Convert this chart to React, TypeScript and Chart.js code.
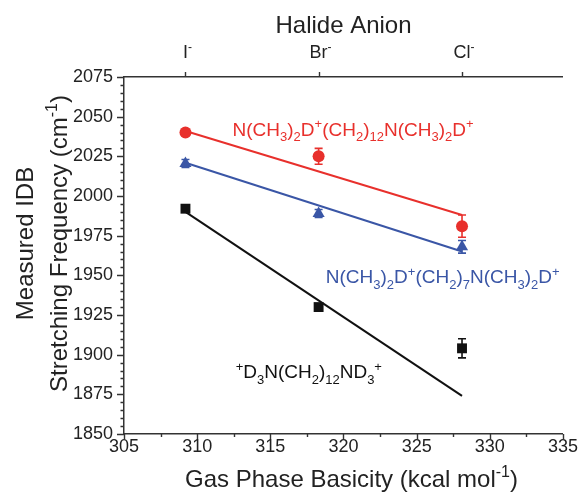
import React, { useEffect, useRef } from 'react';
import { Chart, registerables } from 'chart.js';

Chart.register(...registerables);

// ---- data ----
const basicity = [309.2, 318.3, 328.1];
const halideLabels = ['I^-', 'Br^-', 'Cl^-'];
const redC12 = [2040, 2025, 1981];
const redC12Err = [0, 5, 7];
const blueC7 = [2020.5, 1989, 1968];
const blueC7Err = [2.5, 2.5, 4];
const blackC12 = [1992, 1930, 1904];
const blackC12Err = [0, 0, 6];
const fitX = [309.2, 328.1];
const redFit = [2041, 1988];
const blueFit = [2021, 1965];
const blackFit = [1990, 1874];
const xTicksMin = 305;
const xTicksMax = 335;
const yTicksMin = 1850;
const yTicksMax = 2075;

const RED = '#e8302c';
const BLUE = '#3a56a6';
const BLACK = '#111111';
const AXIS = '#333333';
const FONT = '"Liberation Sans", Arial, Helvetica, sans-serif';

type Seg = { t: string; k: 'n' | 'sub' | 'sup' };

function parseRich(s: string): Seg[] {
  const out: Seg[] = [];
  let i = 0;
  let buf = '';
  const flush = () => {
    if (buf) out.push({ t: buf, k: 'n' });
    buf = '';
  };
  while (i < s.length) {
    const c = s[i];
    if (c === '_' || c === '^') {
      flush();
      const k = c === '_' ? 'sub' : 'sup';
      i++;
      let t = '';
      if (s[i] === '{') {
        i++;
        while (i < s.length && s[i] !== '}') t += s[i++];
        i++;
      } else {
        t = s[i++];
      }
      out.push({ t, k });
    } else {
      buf += c;
      i++;
    }
  }
  flush();
  return out;
}

function drawRich(
  ctx: CanvasRenderingContext2D,
  str: string,
  x: number,
  y: number,
  size: number,
  color: string,
  align: 'left' | 'center' = 'left'
) {
  const segs = parseRich(str);
  const small = Math.round(size * 0.66);
  const fontOf = (k: string) => `${k === 'n' ? size : small}px ${FONT}`;
  let total = 0;
  const widths = segs.map((sg) => {
    ctx.font = fontOf(sg.k);
    const w = ctx.measureText(sg.t).width;
    total += w;
    return w;
  });
  let cx = align === 'center' ? x - total / 2 : x;
  ctx.save();
  ctx.fillStyle = color;
  ctx.textAlign = 'left';
  ctx.textBaseline = 'alphabetic';
  segs.forEach((sg, idx) => {
    ctx.font = fontOf(sg.k);
    const dy = sg.k === 'sub' ? size * 0.28 : sg.k === 'sup' ? -size * 0.4 : 0;
    ctx.fillText(sg.t, cx, y + dy);
    cx += widths[idx];
  });
  ctx.restore();
}

const annotations = [
  { text: 'N(CH_3)_2D^+(CH_2)_{12}N(CH_3)_2D^+', x: 312.42, y: 2037.8, color: RED },
  { text: 'N(CH_3)_2D^+(CH_2)_7N(CH_3)_2D^+', x: 318.79, y: 1945, color: BLUE },
  { text: '^+D_3N(CH_2)_{12}ND_3^+', x: 312.63, y: 1885, color: BLACK },
];

const decorPlugin = {
  id: 'decor',
  afterDatasetsDraw(chart: any) {
    const ctx: CanvasRenderingContext2D = chart.ctx;
    const ys = chart.scales.y;
    ctx.save();
    ctx.lineWidth = 1.6;
    chart.data.datasets.forEach((ds: any, i: number) => {
      if (!ds.errors) return;
      const meta = chart.getDatasetMeta(i);
      ctx.strokeStyle = ds.borderColor;
      meta.data.forEach((el: any, j: number) => {
        const e = ds.errors[j];
        if (!e) return;
        const v = ds.data[j].y;
        const t = ys.getPixelForValue(v + e);
        const b = ys.getPixelForValue(v - e);
        ctx.beginPath();
        ctx.moveTo(el.x, t);
        ctx.lineTo(el.x, b);
        ctx.moveTo(el.x - 4, t);
        ctx.lineTo(el.x + 4, t);
        ctx.moveTo(el.x - 4, b);
        ctx.lineTo(el.x + 4, b);
        ctx.stroke();
      });
    });
    ctx.restore();
  },
  afterDraw(chart: any) {
    const ctx: CanvasRenderingContext2D = chart.ctx;
    const { left, right, top, bottom } = chart.chartArea;
    const xs = chart.scales.x;
    const ys = chart.scales.y;
    ctx.save();
    ctx.strokeStyle = AXIS;
    ctx.lineWidth = 1.4;
    ctx.beginPath();
    for (let v = yTicksMin; v <= yTicksMax + 0.01; v += 5) {
      const p = Math.round(ys.getPixelForValue(v)) + 0.5;
      const len = (v - yTicksMin) % 25 === 0 ? 7 : 3.5;
      ctx.moveTo(left - len, p);
      ctx.lineTo(left, p);
    }
    for (let v = xTicksMin; v <= xTicksMax + 0.01; v += 2.5) {
      const p = Math.round(xs.getPixelForValue(v)) + 0.5;
      const len = (v - xTicksMin) % 5 === 0 ? 5 : 3;
      ctx.moveTo(p, bottom);
      ctx.lineTo(p, bottom + len);
    }
    basicity.forEach((v) => {
      const p = Math.round(xs.getPixelForValue(v)) + 0.5;
      ctx.moveTo(p, top);
      ctx.lineTo(p, top - 5);
    });
    ctx.stroke();

    // top halide labels
    basicity.forEach((v, i) => {
      drawRich(ctx, halideLabels[i], xs.getPixelForValue(v) + 2, 58, 18, '#222', 'center');
    });
    // titles
    drawRich(ctx, 'Halide Anion', (left + right) / 2, 33, 24, '#222', 'center');
    drawRich(ctx, 'Gas Phase Basicity (kcal mol^{-1})', (left + right) / 2 + 8, 487, 24, '#222', 'center');
    const cy = (top + bottom) / 2 - 12;
    ctx.save();
    ctx.translate(33, cy);
    ctx.rotate(-Math.PI / 2);
    drawRich(ctx, 'Measured IDB', 0, 0, 24, '#222', 'center');
    ctx.restore();
    ctx.save();
    ctx.translate(67, cy);
    ctx.rotate(-Math.PI / 2);
    drawRich(ctx, 'Stretching Frequency (cm^{-1})', 0, 0, 24, '#222', 'center');
    ctx.restore();

    // series annotations
    annotations.forEach((a) => {
      drawRich(ctx, a.text, xs.getPixelForValue(a.x), ys.getPixelForValue(a.y), 19, a.color);
    });
    ctx.restore();
  },
};

const pts = (ys: number[]) => basicity.map((x, i) => ({ x, y: ys[i] }));
const fit = (ys: number[]) => fitX.map((x, i) => ({ x, y: ys[i] }));

export default function App() {
  const ref = useRef<HTMLCanvasElement | null>(null);
  useEffect(() => {
    document.body.style.margin = '0';
    const canvas = ref.current;
    if (!canvas) return;
    const tickFont = { family: FONT, size: 18 };
    const chart = new Chart(canvas, {
      type: 'scatter',
      data: {
        datasets: [
          { data: fit(redFit), showLine: true, borderColor: RED, borderWidth: 2, pointRadius: 0, order: 2 },
          { data: fit(blueFit), showLine: true, borderColor: BLUE, borderWidth: 2, pointRadius: 0, order: 2 },
          { data: fit(blackFit), showLine: true, borderColor: BLACK, borderWidth: 2, pointRadius: 0, order: 2 },
          {
            data: pts(redC12), errors: redC12Err, borderColor: RED, backgroundColor: RED,
            pointStyle: 'circle', pointRadius: 6, borderWidth: 0, order: 1,
          } as any,
          {
            data: pts(blueC7), errors: blueC7Err, borderColor: BLUE, backgroundColor: BLUE,
            pointStyle: 'triangle', pointRadius: 7, borderWidth: 0, order: 1,
          } as any,
          {
            data: pts(blackC12), errors: blackC12Err, borderColor: BLACK, backgroundColor: BLACK,
            pointStyle: 'rect', pointRadius: 7, borderWidth: 0, order: 1,
          } as any,
        ],
      },
      options: {
        responsive: false,
        animation: false,
        devicePixelRatio: 1,
        layout: { padding: { left: 0, right: 17, top: 0, bottom: 0 } },
        plugins: { legend: { display: false }, tooltip: { enabled: false } },
        scales: {
          x: {
            type: 'linear',
            position: 'bottom',
            min: xTicksMin,
            max: xTicksMax,
            grid: { display: false, drawTicks: false },
            border: { display: true, color: AXIS, width: 1.5 },
            ticks: { stepSize: 5, padding: 2, color: '#222', font: tickFont, callback: (v: any) => String(v) },
            afterFit: (s: any) => { s.height = 58; },
          },
          x2: {
            type: 'linear',
            position: 'top',
            min: xTicksMin,
            max: xTicksMax,
            grid: { display: false, drawTicks: false },
            border: { display: true, color: AXIS, width: 1.5 },
            ticks: { display: false },
            afterFit: (s: any) => { s.height = 77; },
          },
          y: {
            type: 'linear',
            min: yTicksMin,
            max: yTicksMax,
            grid: { display: false, drawTicks: false },
            border: { display: true, color: AXIS, width: 1.5 },
            ticks: { stepSize: 25, padding: 11, color: '#222', font: tickFont, callback: (v: any) => String(v) },
            afterFit: (s: any) => { s.width = 124; },
          },
        },
      } as any,
      plugins: [decorPlugin],
    });
    return () => chart.destroy();
  }, []);
  return (
    <div style={{ width: 580, height: 492 }}>
      <canvas ref={ref} width={580} height={492} />
    </div>
  );
}
